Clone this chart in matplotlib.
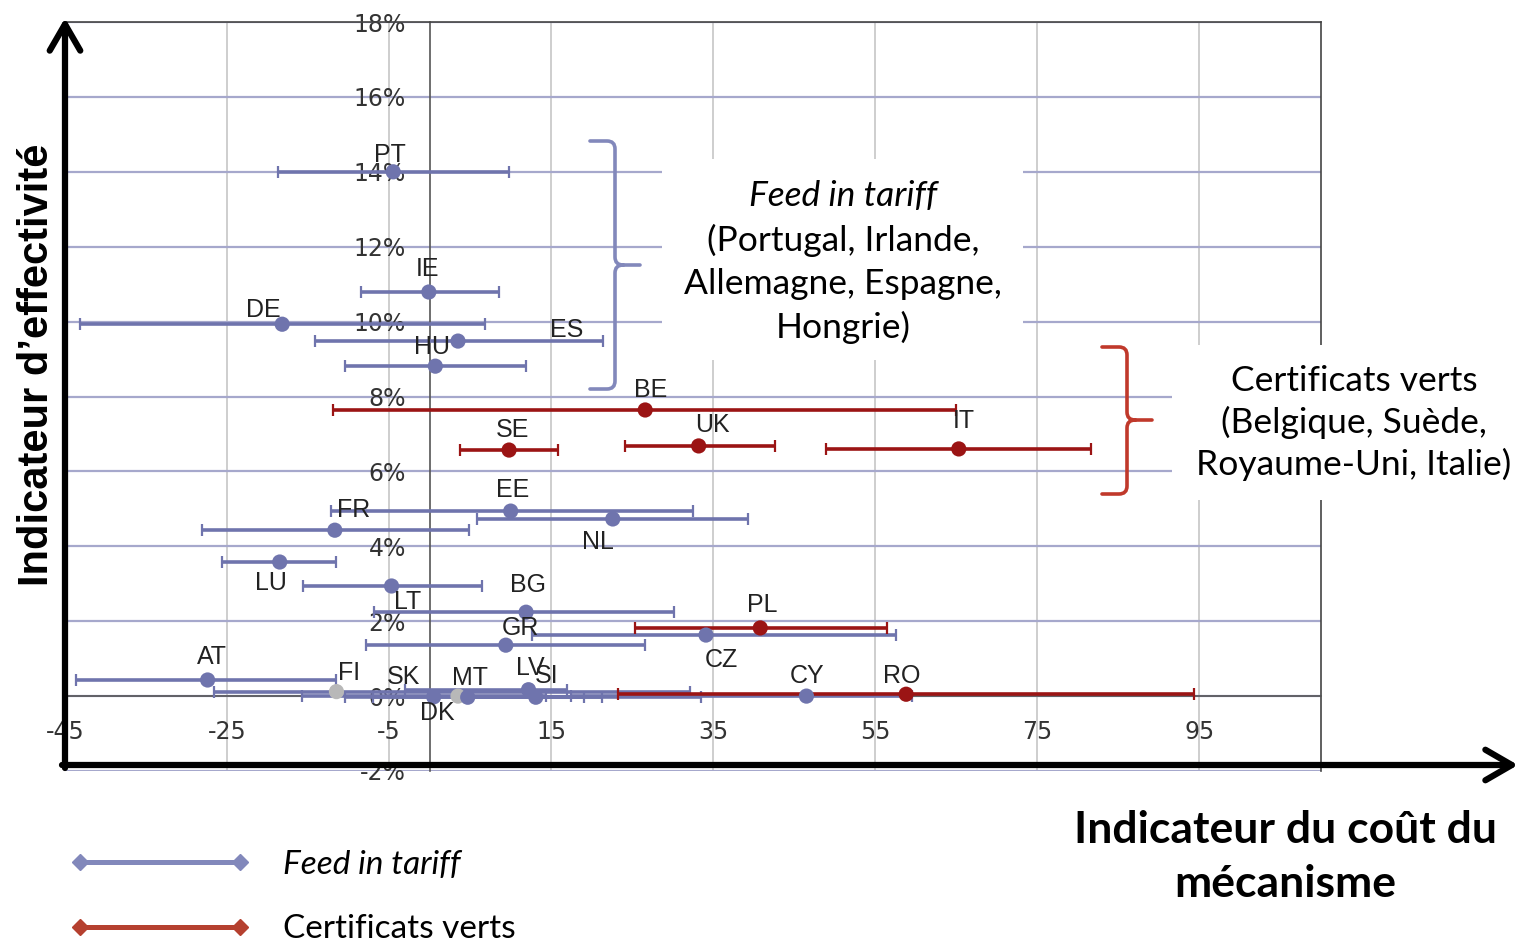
"""
Effectivité vs coût des mécanismes de soutien (Feed in tariff / Certificats verts)
"""

import matplotlib
matplotlib.use('Agg')
import matplotlib.pyplot as plt
import numpy as np
from matplotlib.lines import Line2D
from matplotlib.patches import Rectangle, PathPatch
from matplotlib.path import Path
from matplotlib.ticker import FuncFormatter

plt.rcParams['axes.unicode_minus'] = False

# Feed in tariff countries: centre, effectiveness (%), cost interval
fit_names = ['PT', 'IE', 'DE', 'ES', 'HU', 'EE', 'NL', 'FR', 'LU', 'LT', 'BG', 'GR', 'CZ',
             'AT', 'FI', 'SK', 'DK', 'MT', 'LV', 'SI', 'CY']
fit_cost = [-4.5, -0.1, -18.2, 3.5, 0.7, 10.0, 22.6, -11.7, -18.5, -4.7, 11.9, 9.4, 34.1,
            -27.4, -11.5, 3.5, 0.5, 4.7, 12.2, 13.1, 46.5]
fit_eff = [14.0, 10.79, 9.93, 9.48, 8.81, 4.94, 4.73, 4.43, 3.58, 2.94, 2.24, 1.36, 1.63,
           0.43, 0.12, 0.0, -0.02, -0.03, 0.17, -0.03, 0.0]
fit_low = [-18.7, -8.5, -43.1, -14.1, -10.4, -12.2, 5.9, -28.1, -25.6, -15.6, -6.9, -7.8, 12.6,
           -43.6, -26.6, -15.7, -10.5, -7.0, -3.0, 5.0, 17.5]
fit_high = [9.8, 8.5, 6.8, 21.4, 11.9, 32.5, 39.3, 4.8, -11.5, 6.4, 30.2, 26.6, 57.6,
            -11.5, 32.1, 14.3, 21.3, 33.5, 17.0, 19.0, 59.5]
fit_grey = ['FI', 'SK']

# Certificats verts countries
cv_names = ['BE', 'SE', 'UK', 'IT', 'PL', 'RO']
cv_cost = [26.6, 9.8, 33.2, 65.3, 40.8, 58.8]
cv_eff = [7.64, 6.57, 6.68, 6.60, 1.82, 0.05]
cv_low = [-11.9, 3.7, 24.1, 48.9, 25.3, 23.2]
cv_high = [65.0, 15.8, 42.6, 81.6, 56.5, 94.3]

x_ticks = [-45, -25, -5, 15, 35, 55, 75, 95]
y_ticks = list(range(-2, 19, 2))

# label offsets (pixels, dy up) relative to each point
label_offset = {
    'PT': (-3, 17), 'IE': (-1, 23), 'DE': (-19, 14), 'ES': (109, 11), 'HU': (-3, 19),
    'EE': (2, 21), 'NL': (-15, -23), 'FR': (19, 20), 'LU': (-9, -21), 'LT': (16, -16),
    'BG': (2, 27), 'GR': (15, 17), 'CZ': (15, -25), 'AT': (4, 23), 'FI': (13, 19),
    'SK': (-55, 19), 'DK': (4, -16), 'MT': (2, 19), 'LV': (2, 22), 'SI': (11, 21),
    'CY': (1, 20), 'BE': (5, 20), 'SE': (3, 20), 'UK': (14, 21), 'IT': (5, 28),
    'PL': (2, 23), 'RO': (-4, 18),
}

BLUE = '#6f74ad'
RED = '#9b1414'
GREY = '#b8b8b8'
LEG_BLUE = '#8288bb'
LEG_RED = '#b5402f'

W, H = 1520, 943
fig = plt.figure(figsize=(W / 100, H / 100), dpi=100)
ax = fig.add_axes([65 / W, 172 / H, 1256 / W, 749 / H])
ax.set_xlim(-45, 110)
ax.set_ylim(-2, 18)
ax.set_xticks(x_ticks)
ax.set_yticks(y_ticks)
ax.yaxis.set_major_formatter(FuncFormatter(lambda v, p: f'{v:.0f}%'))
ax.tick_params(length=0, labelsize=17, colors='#333333', pad=17)
for lab in ax.get_xticklabels() + ax.get_yticklabels():
    lab.set_family('Liberation Sans')

ax.spines['left'].set_position(('data', 0))
ax.spines['bottom'].set_position(('data', 0))
for s in ['left', 'bottom']:
    ax.spines[s].set_color('#555555')
    ax.spines[s].set_linewidth(1.2)
for s in ['top', 'right']:
    ax.spines[s].set_color('#444444')
    ax.spines[s].set_linewidth(1.2)
ax.yaxis.grid(True, color='#a6a8cc', lw=1.6)
ax.xaxis.grid(True, color='#c6c6c6', lw=1.2)
ax.set_axisbelow(True)


def draw_series(names, cost, eff, low, high, color, grey=()):
    cost = np.array(cost)
    eff = np.array(eff)
    xerr = [cost - np.array(low), np.array(high) - cost]
    ax.errorbar(cost, eff, xerr=xerr, fmt='none', ecolor=color, elinewidth=2.6,
                capsize=4.5, capthick=1.6, zorder=3)
    cols = [GREY if n in grey else color for n in names]
    ax.scatter(cost, eff, s=120, c=cols, zorder=4, linewidths=0)
    for n, x, y in zip(names, cost, eff):
        dx, dy = label_offset[n]
        ax.annotate(n, (x, y), xytext=(dx * 0.72, dy * 0.72), textcoords='offset points',
                    ha='center', va='center', fontsize=18, family='Liberation Sans',
                    color='#222222', zorder=5)


draw_series(fit_names, fit_cost, fit_eff, fit_low, fit_high, BLUE, fit_grey)
draw_series(cv_names, cv_cost, cv_eff, cv_low, cv_high, RED)

# overlay in pixel coordinates for the annotations
ov = fig.add_axes([0, 0, 1, 1], zorder=5)
ov.set_xlim(0, W)
ov.set_ylim(H, 0)
ov.axis('off')
ov.patch.set_alpha(0)

ov.add_patch(Rectangle((662, 159), 361, 201, facecolor='white', edgecolor='none', zorder=1))
ov.add_patch(Rectangle((1172, 345), 348, 155, facecolor='white', edgecolor='none', zorder=1))


def brace(x_out, x_in, tip, y_top, y_mid, y_bot, color):
    r = 8
    verts = [(x_out, y_top), (x_in - r, y_top), (x_in, y_top), (x_in, y_top + r),
             (x_in, y_mid - r), (x_in, y_mid), (x_in + r, y_mid), (tip, y_mid),
             (x_in + r, y_mid), (x_in, y_mid), (x_in, y_mid + r),
             (x_in, y_bot - r), (x_in, y_bot), (x_in - r, y_bot), (x_out, y_bot)]
    codes = [Path.MOVETO, Path.LINETO, Path.CURVE3, Path.CURVE3,
             Path.LINETO, Path.CURVE3, Path.CURVE3, Path.LINETO,
             Path.MOVETO, Path.CURVE3, Path.CURVE3,
             Path.LINETO, Path.CURVE3, Path.CURVE3, Path.LINETO]
    ov.add_patch(PathPatch(Path(verts, codes), facecolor='none', edgecolor=color,
                           lw=2.6, capstyle='round', zorder=2))


brace(590, 615, 640, 141, 265, 389, LEG_BLUE)
brace(1102, 1127, 1152, 347, 420, 494, '#c0392b')

ov.text(843, 196, 'Feed in tariff', ha='center', va='center', fontsize=25.5,
        family='Lato', style='italic', zorder=3)
ov.text(843, 284, '(Portugal, Irlande,\nAllemagne, Espagne,\nHongrie)', ha='center',
        va='center', fontsize=25.5, family='Lato', linespacing=1.4, zorder=3)
ov.text(1354, 423, 'Certificats verts\n(Belgique, Suède,\nRoyaume-Uni, Italie)', ha='center',
        va='center', fontsize=25.5, family='Lato', linespacing=1.33, zorder=3)

# thick axis arrows
arrow = dict(arrowstyle='->,head_length=0.95,head_width=0.55', lw=4.5, color='black',
             shrinkA=0, shrinkB=0, mutation_scale=20)
ov.annotate('', xy=(65, 18), xytext=(65, 768), arrowprops=arrow, zorder=4)
ov.annotate('', xy=(1518, 765), xytext=(62, 765), arrowprops=arrow, zorder=4)

fig.text(37 / W, 1 - 365 / H, 'Indicateur d\u2019effectivité', rotation=90, ha='center',
         va='center', fontsize=30, fontweight='bold', family='Liberation Sans')
fig.text(1285 / W, 1 - 857 / H, 'Indicateur du coût du\nmécanisme', ha='center',
         va='center', fontsize=32, fontweight='bold', family='Lato', linespacing=1.45)

handles = [Line2D([], [], color=LEG_BLUE, lw=3.6, marker='D', markersize=8),
           Line2D([], [], color=LEG_RED, lw=3.6, marker='D', markersize=8)]
leg = fig.legend(handles, ['Feed in tariff', 'Certificats verts'], loc='center left',
                 bbox_to_anchor=(70 / W, 1 - 897 / H), frameon=False, numpoints=2,
                 handlelength=5.4, handletextpad=1.0, labelspacing=1.05,
                 borderpad=0, borderaxespad=0, prop={'family': 'Lato', 'size': 24})
leg.get_texts()[0].set_style('italic')

fig.savefig('out.png', dpi=100)
